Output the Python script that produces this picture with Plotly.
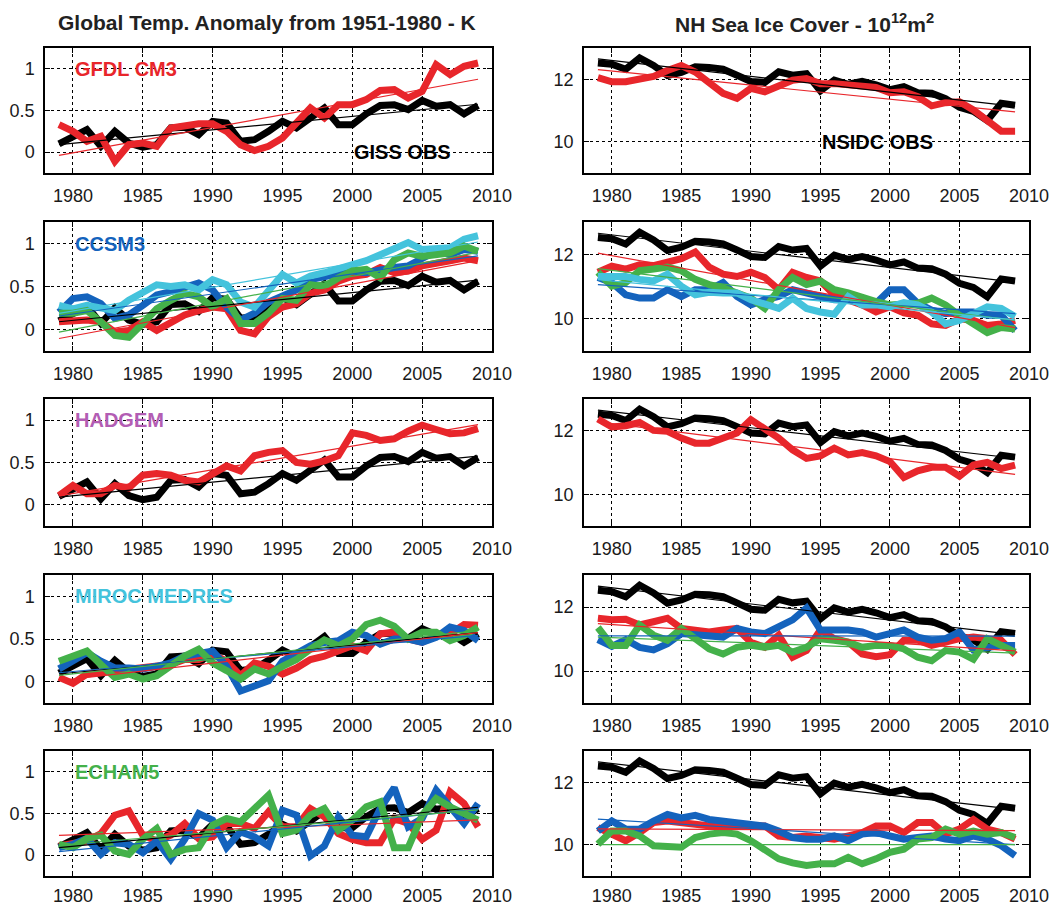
import numpy as np
import plotly.graph_objects as go

years = list(range(1979, 2010))

# ---------------- Global temperature anomaly (K) ----------------
giss_temp = [0.10, 0.19, 0.27, 0.07, 0.25, 0.11, 0.06, 0.09, 0.29, 0.30, 0.21, 0.37, 0.35, 0.13, 0.15, 0.25,
             0.37, 0.29, 0.41, 0.53, 0.33, 0.33, 0.46, 0.56, 0.57, 0.51, 0.62, 0.55, 0.57, 0.46, 0.56]
gfdl_temp = [0.33, 0.25, 0.13, 0.19, -0.11, 0.09, 0.11, 0.07, 0.29, 0.32, 0.34, 0.34, 0.25, 0.09, 0.02, 0.07,
             0.17, 0.35, 0.53, 0.41, 0.57, 0.57, 0.63, 0.74, 0.75, 0.65, 0.73, 1.05, 0.93, 1.03, 1.07]
ccsm3_temp_red = [0.09, 0.11, 0.11, 0.09, -0.03, -0.01, 0.09, -0.01, 0.09, 0.17, 0.22, 0.26, 0.24, -0.01, -0.05, 0.15,
                  0.26, 0.30, 0.42, 0.46, 0.56, 0.62, 0.64, 0.72, 0.66, 0.68, 0.74, 0.78, 0.80, 0.83, 0.80]
ccsm3_temp_blue = [0.20, 0.36, 0.38, 0.30, 0.13, 0.17, 0.28, 0.40, 0.44, 0.50, 0.54, 0.46, 0.26, 0.11, 0.19, 0.32,
                   0.38, 0.46, 0.58, 0.62, 0.66, 0.68, 0.66, 0.70, 0.72, 0.74, 0.83, 0.91, 0.87, 0.93, 0.91]
ccsm3_temp_cyan = [0.28, 0.24, 0.28, 0.26, 0.22, 0.34, 0.42, 0.52, 0.50, 0.52, 0.46, 0.58, 0.52, 0.32, 0.26, 0.46,
                   0.64, 0.54, 0.62, 0.66, 0.70, 0.76, 0.80, 0.87, 0.93, 1.01, 0.93, 0.95, 0.95, 1.05, 1.09]
ccsm3_temp_green = [0.19, 0.19, 0.22, 0.09, -0.07, -0.09, 0.07, 0.24, 0.34, 0.42, 0.38, 0.26, 0.36, 0.07, 0.07, 0.19,
                    0.36, 0.34, 0.52, 0.50, 0.60, 0.68, 0.70, 0.60, 0.81, 0.89, 0.85, 0.87, 0.89, 0.97, 0.91]
hadgem_temp = [0.11, 0.23, 0.13, 0.13, 0.23, 0.20, 0.35, 0.37, 0.35, 0.29, 0.27, 0.36, 0.46, 0.40, 0.58, 0.62,
               0.64, 0.50, 0.48, 0.52, 0.58, 0.85, 0.82, 0.76, 0.78, 0.87, 0.94, 0.89, 0.84, 0.85, 0.90]
miroc_temp_red = [0.05, -0.02, 0.09, 0.11, 0.12, 0.15, 0.18, 0.18, 0.20, 0.26, 0.26, 0.32, 0.24, 0.07, 0.22, 0.18,
                  0.09, 0.16, 0.26, 0.30, 0.36, 0.42, 0.36, 0.56, 0.58, 0.50, 0.46, 0.54, 0.56, 0.67, 0.66]
miroc_temp_blue = [0.15, 0.24, 0.34, 0.24, 0.16, 0.16, 0.15, 0.18, 0.22, 0.30, 0.32, 0.36, 0.18, -0.11, -0.05, 0.01,
                   0.24, 0.32, 0.42, 0.46, 0.48, 0.58, 0.54, 0.44, 0.50, 0.50, 0.46, 0.52, 0.64, 0.60, 0.48]
miroc_temp_green = [0.24, 0.30, 0.36, 0.20, 0.05, 0.09, 0.03, 0.07, 0.18, 0.30, 0.38, 0.22, 0.13, 0.03, 0.15, 0.09,
                    0.18, 0.26, 0.38, 0.49, 0.42, 0.50, 0.67, 0.72, 0.65, 0.50, 0.58, 0.58, 0.48, 0.54, 0.64]
echam5_temp_red = [0.11, 0.13, 0.17, 0.26, 0.48, 0.53, 0.24, 0.17, 0.24, 0.38, 0.20, 0.22, 0.38, 0.38, 0.32, 0.52,
                   0.34, 0.34, 0.56, 0.46, 0.26, 0.19, 0.15, 0.15, 0.44, 0.38, 0.19, 0.30, 0.76, 0.62, 0.34]
echam5_temp_blue = [0.09, 0.13, 0.20, 0.01, 0.15, 0.13, 0.03, 0.17, -0.05, 0.19, 0.50, 0.42, 0.09, 0.28, 0.22, 0.11,
                    0.54, 0.48, -0.01, 0.11, 0.46, 0.24, 0.22, 0.56, 0.81, 0.34, 0.44, 0.78, 0.58, 0.38, 0.62]
echam5_temp_green = [0.13, 0.09, 0.20, 0.24, 0.05, 0.01, 0.19, 0.32, 0.01, 0.07, 0.09, 0.36, 0.44, 0.40, 0.56, 0.72,
                     0.26, 0.30, 0.48, 0.56, 0.30, 0.42, 0.58, 0.64, 0.09, 0.09, 0.48, 0.68, 0.58, 0.50, 0.42]

# ---------------- NH sea ice cover (10^12 m^2) ----------------
nsidc_ice = [12.52, 12.48, 12.32, 12.68, 12.44, 12.12, 12.22, 12.40, 12.38, 12.32, 12.13, 11.93, 11.90, 12.24, 12.13, 12.18,
             11.63, 11.97, 11.84, 11.93, 11.82, 11.67, 11.76, 11.57, 11.55, 11.38, 11.10, 10.97, 10.68, 11.23, 11.17]
gfdl_ice = [12.05, 11.92, 11.92, 11.99, 12.09, 12.28, 12.44, 12.23, 11.86, 11.55, 11.39, 11.71, 11.60, 11.81, 11.97, 12.02,
            11.86, 11.86, 11.81, 11.81, 11.74, 11.57, 11.60, 11.44, 11.15, 11.25, 11.28, 11.02, 10.68, 10.34, 10.34]
ccsm3_ice_red = [11.44, 11.63, 11.54, 11.67, 11.65, 11.78, 11.86, 12.07, 11.60, 11.38, 11.31, 11.44, 11.28, 10.90, 11.44, 11.28,
                 11.17, 10.74, 10.59, 10.43, 10.21, 10.37, 10.18, 10.11, 9.84, 9.79, 10.00, 9.95, 9.79, 9.84, 9.95]
ccsm3_ice_blue = [11.28, 11.12, 10.74, 10.64, 10.64, 10.90, 10.69, 10.90, 10.90, 11.12, 10.69, 10.43, 10.59, 10.69, 10.90, 10.80,
                  10.69, 10.59, 10.59, 10.48, 10.48, 10.90, 10.90, 10.48, 10.27, 10.16, 10.21, 10.21, 10.11, 10.11, 9.63]
ccsm3_ice_cyan = [11.31, 11.31, 11.31, 11.22, 11.17, 11.38, 11.01, 10.74, 10.82, 10.80, 10.80, 10.59, 10.43, 10.32, 10.64, 10.32,
                  10.21, 10.14, 10.69, 10.43, 10.43, 10.37, 10.50, 10.43, 10.21, 9.84, 9.95, 10.16, 10.37, 10.32, 10.07]
ccsm3_ice_green = [11.44, 11.01, 11.12, 11.49, 11.54, 11.60, 11.49, 11.22, 11.06, 10.96, 10.80, 10.64, 10.32, 10.90, 11.28, 11.06,
                   11.17, 10.90, 10.80, 10.64, 10.53, 10.43, 10.48, 10.48, 10.64, 10.43, 10.11, 9.84, 9.57, 9.73, 9.68]
hadgem_ice = [12.37, 12.12, 12.16, 12.26, 12.01, 11.98, 11.77, 11.61, 11.61, 11.77, 11.93, 12.35, 12.08, 11.77, 11.40, 11.13,
              11.21, 11.45, 11.24, 11.31, 11.21, 11.03, 10.53, 10.74, 10.85, 10.85, 10.57, 10.92, 11.00, 10.81, 10.92]
miroc_ice_red = [11.65, 11.60, 11.62, 11.44, 11.54, 11.65, 11.33, 11.28, 11.22, 11.28, 11.33, 10.90, 10.74, 11.12, 10.43, 10.64,
                 11.28, 11.01, 10.90, 10.53, 10.45, 10.51, 10.96, 10.96, 10.80, 10.90, 11.01, 11.06, 11.01, 10.96, 10.51]
miroc_ice_blue = [10.98, 10.77, 10.98, 10.74, 10.66, 10.85, 11.17, 11.12, 11.12, 11.06, 11.33, 11.22, 11.17, 11.38, 11.60, 11.97,
                  11.28, 11.28, 11.28, 11.22, 11.06, 11.17, 11.28, 11.06, 10.96, 11.01, 11.22, 10.66, 10.74, 10.80, 10.80]
miroc_ice_green = [11.36, 10.80, 10.80, 11.44, 11.12, 10.96, 11.33, 11.01, 10.69, 10.53, 10.74, 10.80, 10.74, 10.80, 10.59, 10.74,
                   11.01, 10.96, 10.90, 10.74, 10.80, 10.80, 10.69, 10.43, 10.32, 10.64, 10.59, 10.37, 11.01, 10.80, 10.59]
echam5_ice_red = [10.55, 10.34, 10.13, 10.39, 10.71, 10.76, 10.71, 10.65, 10.60, 10.55, 10.62, 10.62, 10.60, 10.28, 10.23, 10.28,
                  10.23, 10.18, 10.28, 10.39, 10.60, 10.60, 10.39, 10.71, 10.71, 10.34, 10.50, 10.81, 10.50, 10.39, 10.18]
echam5_ice_blue = [10.44, 10.76, 10.50, 10.50, 10.76, 10.97, 10.86, 10.94, 10.81, 10.76, 10.73, 10.65, 10.60, 10.44, 10.23, 10.18,
                   10.18, 10.28, 10.13, 10.34, 10.39, 10.28, 10.18, 10.23, 10.28, 10.18, 10.13, 10.28, 10.18, 9.97, 9.65]
echam5_ice_green = [10.02, 10.44, 10.44, 10.28, 9.97, 9.92, 9.92, 10.23, 10.34, 10.39, 10.34, 10.13, 9.81, 9.55, 9.42, 9.34,
                    9.39, 9.39, 9.60, 9.39, 9.55, 9.76, 9.86, 10.18, 10.23, 10.50, 10.34, 10.44, 10.34, 10.39, 10.23]

model_names = ["GFDL CM3", "CCSM3", "HADGEM", "MIROC MEDRES", "ECHAM5"]
x_ticks = [1980, 1985, 1990, 1995, 2000, 2005, 2010]
temp_ticks = [0, 0.5, 1]
temp_ticktext = ["0", "0.5", "1"]
ice_ticks = [10, 12]
ice_ticktext = ["10", "12"]

RED = "#e8262b"
BLACK = "#000000"
BLUE = "#1463bd"
GREEN = "#44b14a"
CYAN = "#44c3dc"
label_colors = [RED, "#1463bd", "#b35db4", CYAN, GREEN]

temp_rows = [
    [(giss_temp, BLACK), (gfdl_temp, RED)],
    [(giss_temp, BLACK), (ccsm3_temp_red, RED), (ccsm3_temp_blue, BLUE), (ccsm3_temp_cyan, CYAN), (ccsm3_temp_green, GREEN)],
    [(giss_temp, BLACK), (hadgem_temp, RED)],
    [(giss_temp, BLACK), (miroc_temp_red, RED), (miroc_temp_blue, BLUE), (miroc_temp_green, GREEN)],
    [(giss_temp, BLACK), (echam5_temp_red, RED), (echam5_temp_blue, BLUE), (echam5_temp_green, GREEN)],
]
ice_rows = [
    [(nsidc_ice, BLACK), (gfdl_ice, RED)],
    [(nsidc_ice, BLACK), (ccsm3_ice_red, RED), (ccsm3_ice_blue, BLUE), (ccsm3_ice_green, GREEN), (ccsm3_ice_cyan, CYAN)],
    [(nsidc_ice, BLACK), (hadgem_ice, RED)],
    [(nsidc_ice, BLACK), (miroc_ice_red, RED), (miroc_ice_blue, BLUE), (miroc_ice_green, GREEN)],
    [(nsidc_ice, BLACK), (echam5_ice_red, RED), (echam5_ice_blue, BLUE), (echam5_ice_green, GREEN)],
]

# the html body has a default 8px margin; the figure fills the rest of the window
OFF = 8
W, H = 1063 - 2 * OFF, 905 - OFF
row_px = [(48, 173), (222, 351), (399, 526), (575, 703), (751, 876)]
col_px = [(45, 492), (584, 1029)]

FONT = "Liberation Sans, Arial, sans-serif"
fig = go.Figure()
layout = dict(
    width=W, height=H, margin=dict(l=0, r=0, t=0, b=0, autoexpand=False),
    paper_bgcolor="white", plot_bgcolor="white", showlegend=False,
    font=dict(family=FONT, color="#1a1a1a", size=18),
)
annotations = []

def px_x(p):
    return (p - OFF) / W

def px_y(p):
    return 1 - (p - OFF) / H

yr = np.array(years, dtype=float)
for r in range(5):
    for c in range(2):
        n = r * 2 + c + 1
        xa = "xaxis" if n == 1 else f"xaxis{n}"
        ya = "yaxis" if n == 1 else f"yaxis{n}"
        xref = "x" if n == 1 else f"x{n}"
        yref = "y" if n == 1 else f"y{n}"
        top, bot = row_px[r]
        left, right = col_px[c]
        common = dict(showline=True, linecolor="black", linewidth=1.5, mirror="ticks",
                      ticks="inside", ticklen=5, tickcolor="black", tickwidth=1,
                      showgrid=True, gridcolor="black", gridwidth=1, griddash="dot",
                      zeroline=False, automargin=False,
                      tickfont=dict(size=18, color="#1a1a1a", family=FONT))
        layout[xa] = dict(common, domain=[px_x(left), px_x(right)], anchor=yref,
                          range=[1978, 2010], tickvals=x_ticks,
                          ticktext=[str(v) for v in x_ticks],
                          ticklabelstandoff=6 if r < 4 else 3)
        if c == 0:
            layout[ya] = dict(common, domain=[px_y(bot), px_y(top)], anchor=xref,
                              range=[-0.25, 1.25], tickvals=temp_ticks, ticktext=temp_ticktext,
                              ticklabelstandoff=5)
            series = temp_rows[r]
        else:
            layout[ya] = dict(common, domain=[px_y(bot), px_y(top)], anchor=xref,
                              range=[9, 13], tickvals=ice_ticks, ticktext=ice_ticktext,
                              ticklabelstandoff=5)
            series = ice_rows[r]
        for vals, col in series:
            fig.add_trace(go.Scatter(x=years, y=vals, mode="lines", xaxis=xref, yaxis=yref,
                                     line=dict(color=col, width=7), hoverinfo="skip"))
        for vals, col in series:
            k, b = np.polyfit(yr, np.array(vals), 1)
            fig.add_trace(go.Scatter(x=[years[0], years[-1]], y=[k * years[0] + b, k * years[-1] + b],
                                     mode="lines", xaxis=xref, yaxis=yref,
                                     line=dict(color=col, width=1.2), hoverinfo="skip"))
        if c == 0:
            annotations.append(dict(x=1980, y=1.0, xref=xref, yref=yref, text=f"<b>{model_names[r]}</b>",
                                    showarrow=False, xanchor="left", yanchor="middle",
                                    font=dict(size=20, color=label_colors[r], family=FONT)))

annotations.append(dict(x=2000, y=0.0, xref="x", yref="y", text="<b>GISS OBS</b>", showarrow=False,
                        xanchor="left", yanchor="middle", font=dict(size=20, color="black", family=FONT)))
annotations.append(dict(x=1995, y=10.0, xref="x2", yref="y2", text="<b>NSIDC OBS</b>", showarrow=False,
                        xanchor="left", yanchor="middle", font=dict(size=20, color="black", family=FONT)))
annotations.append(dict(x=px_x(267), y=px_y(23), xref="paper", yref="paper",
                        text="<b>Global Temp. Anomaly from 1951-1980 - K</b>", showarrow=False,
                        xanchor="center", yanchor="middle", font=dict(size=21, color="#222222", family=FONT)))
annotations.append(dict(x=px_x(804), y=px_y(23), xref="paper", yref="paper",
                        text="<b>NH Sea Ice Cover - 10<sup>12</sup>m<sup>2</sup></b>", showarrow=False,
                        xanchor="center", yanchor="middle", font=dict(size=21, color="#222222", family=FONT)))
layout["annotations"] = annotations
fig.update_layout(**layout)
fig.write_html("out.html")
